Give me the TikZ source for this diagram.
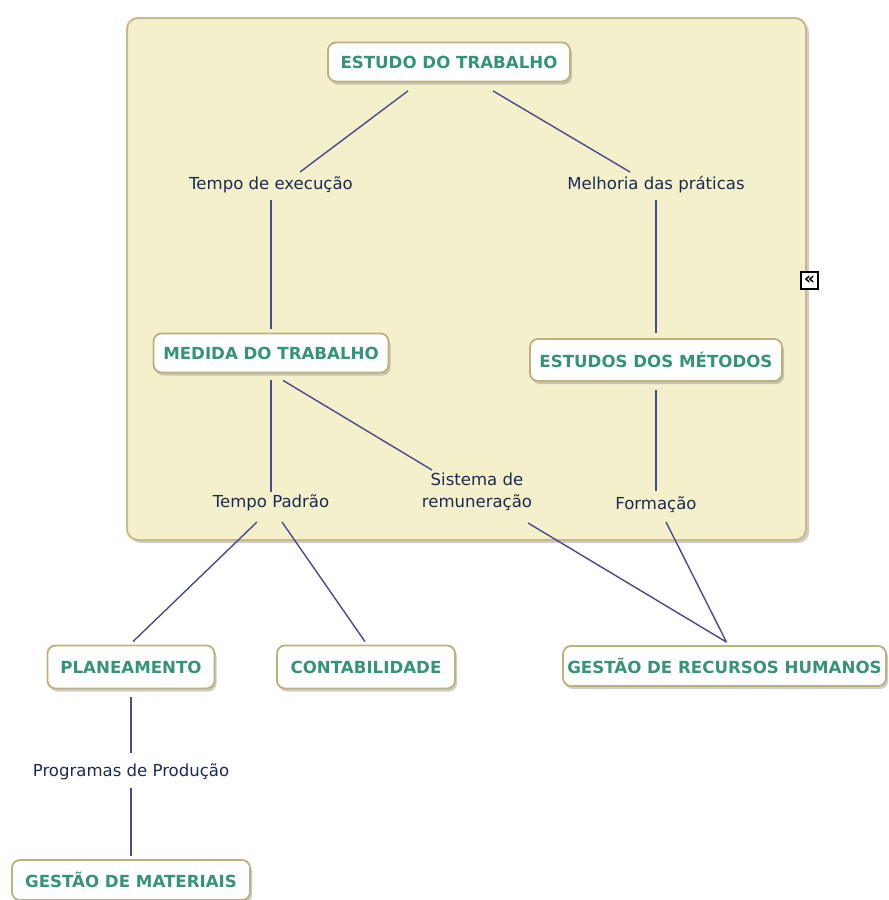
\documentclass[tikz,border=0pt]{standalone}
\usepackage{fontspec}
\setmainfont{DejaVu Sans}
\usetikzlibrary{shadows,calc}

\definecolor{panelfill}{HTML}{F3F0CB}
\definecolor{paneledge}{HTML}{CBB98C}
\definecolor{boxedge}{HTML}{BDB07E}
\definecolor{titletext}{HTML}{35937A}
\definecolor{phrasetext}{HTML}{1C2A55}
\definecolor{linkcol}{HTML}{4A4A8C}

\newcommand{\titlefont}{\bfseries\fontsize{16.7}{19}\selectfont}
\newcommand{\phrasefont}{\fontsize{16.6}{22}\selectfont}

\tikzset{
  concept/.style={draw=boxedge, line width=1.8bp, rounded corners=8bp,
    fill=white, text=titletext, font=\titlefont, inner sep=0pt,
    drop shadow={shadow xshift=2bp, shadow yshift=-3bp, fill=black!40, opacity=0.5}},
  phrase/.style={text=phrasetext, font=\phrasefont, inner sep=0pt, align=center},
  link/.style={draw=linkcol, line width=1.4bp},
  panel/.style={draw=paneledge, line width=2bp, fill=panelfill, rounded corners=11bp,
    drop shadow={shadow xshift=3bp, shadow yshift=-3bp, fill=black!40, opacity=0.5}},
}

\begin{document}
\begin{tikzpicture}[x=1bp,y=-1bp]
\useasboundingbox (0,0) rectangle (889,900);

% grouping panel
\draw[panel] (127,18) rectangle (806,540);

% collapse toggle
\node[draw=black, line width=1.2bp, fill=white, minimum width=17bp, minimum height=17bp,
      inner sep=0pt, font=\bfseries\fontsize{17}{17}\selectfont] (toggle) at (809.5,280.5) {«};

% concepts
\node[concept, minimum width=242bp, minimum height=39bp] (estudo)      at (449,62)    {ESTUDO DO TRABALHO};
\node[concept, minimum width=235bp, minimum height=39bp] (medida)      at (271,353)   {MEDIDA DO TRABALHO};
\node[concept, minimum width=252bp, minimum height=42bp] (estudos)     at (656,360)   {ESTUDOS DOS MÉTODOS};
\node[concept, minimum width=167bp, minimum height=43bp] (planeamento) at (131,667)   {PLANEAMENTO};
\node[concept, minimum width=178bp, minimum height=43bp] (contab)      at (366,667)   {CONTABILIDADE};
\node[concept, minimum width=323bp, minimum height=40bp] (grh)         at (724.5,666) {GESTÃO DE RECURSOS HUMANOS};
\node[concept, minimum width=238bp, minimum height=40bp] (materiais)   at (131,880)   {GESTÃO DE MATERIAIS};

% linking phrases
\node[phrase] (tempo)     at (271,185) {Tempo de execução};
\node[phrase] (melhoria)  at (656,185) {Melhoria das práticas};
\node[phrase] (tpadrao)   at (271,503) {Tempo Padrão};
\node[phrase] (sistema)   at (477,492) {Sistema de\\remuneração};
\node[phrase] (formacao)  at (656,505) {Formação};
\node[phrase] (programas) at (131,772) {Programas de Produção};

% connections
\draw[link] ($(estudo.south)+(-41,8.5)$) -- ($(tempo.center)+(29,-13)$);
\draw[link] ($(estudo.south)+(44,8.5)$) -- ($(melhoria.center)+(-26,-13)$);
\draw[link] ($(tempo.center)+(0,15)$) -- ($(medida.north)+(0,-3.5)$);
\draw[link] ($(melhoria.center)+(0,15)$) -- ($(estudos.north)+(0,-5)$);
\draw[link] ($(medida.south)+(0,7)$) -- ($(tpadrao.center)+(0,-11)$);
\draw[link] ($(medida.south)+(12,7)$) -- ($(sistema.center)+(-45,-22)$);
\draw[link] ($(estudos.south)+(0,8)$) -- ($(formacao.center)+(0,-14)$);
\draw[link] ($(tpadrao.center)+(-14,19)$) -- ($(planeamento.north)+(2,-3)$);
\draw[link] ($(tpadrao.center)+(11,19)$) -- ($(contab.north)+(-1,-3)$);
\draw[link] ($(sistema.center)+(51,31)$) -- ($(grh.north)+(2,-3)$);
\draw[link] ($(formacao.center)+(10,17)$) -- ($(grh.north)+(2,-3)$);
\draw[link] ($(planeamento.south)+(0,8)$) -- ($(programas.center)+(0,-19)$);
\draw[link] ($(programas.center)+(0,16)$) -- ($(materiais.north)+(0,-3)$);
\end{tikzpicture}
\end{document}
